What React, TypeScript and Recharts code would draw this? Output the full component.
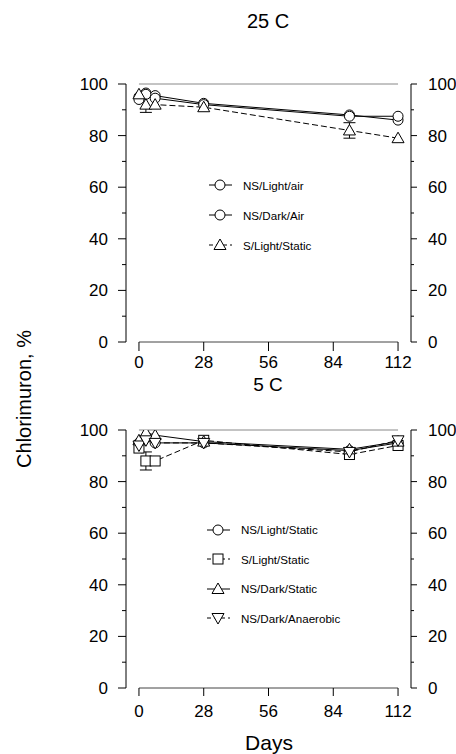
import React from "react";
import {
  ComposedChart,
  ErrorBar,
  Legend,
  Line,
  ReferenceLine,
  XAxis,
  YAxis,
} from "recharts";

// sampling days and axis ticks
const days = [0, 3, 7, 28, 91, 112];
const dayTicks = [0, 28, 56, 84, 112];
const pctTicks = [0, 10, 20, 30, 40, 50, 60, 70, 80, 90, 100];

// 25 C
const warmNsLightAir = [95, 96.5, 95.5, 92.5, 88, 86];
const warmNsDarkAir = [94, 96, 94.5, 92, 87.5, 87.5];
const warmSLightStatic = [96, 92, 92, 91, 82, 79];
const warmSLightStaticErr = [0, 3, 0, 0, 3, 0];

// 5 C
const coldNsLightStatic = [95, 97, 95, 95, 92, 95];
const coldSLightStatic = [93, 88, 88, 96, 90.5, 94];
const coldSLightStaticErr = [0, 3.5, 0, 0, 0, 0];
const coldNsDarkStatic = [96, 99, 98, 95.5, 92.5, 95.5];
const coldNsDarkAnaerobic = [94, 96, 95, 95, 91.5, 96];

type Kind = "circle" | "square" | "up" | "down";
type Series = {
  key: string;
  name: string;
  values: number[];
  err?: number[];
  kind: Kind;
  dash?: string;
};

const warmSeries: Series[] = [
  { key: "a", name: "NS/Light/air", values: warmNsLightAir, kind: "circle" },
  { key: "b", name: "NS/Dark/Air", values: warmNsDarkAir, kind: "circle" },
  { key: "c", name: "S/Light/Static", values: warmSLightStatic, err: warmSLightStaticErr, kind: "up", dash: "6 3" },
];

const coldSeries: Series[] = [
  { key: "a", name: "NS/Light/Static", values: coldNsLightStatic, kind: "circle" },
  { key: "b", name: "S/Light/Static", values: coldSLightStatic, err: coldSLightStaticErr, kind: "square", dash: "6 3" },
  { key: "c", name: "NS/Dark/Static", values: coldNsDarkStatic, kind: "up" },
  { key: "d", name: "NS/Dark/Anaerobic", values: coldNsDarkAnaerobic, kind: "down", dash: "6 3" },
];

const FONT = "'Liberation Sans', Arial, sans-serif";

function Marker({ kind, cx, cy }: { kind: Kind; cx: number; cy: number }) {
  const st = { fill: "#fff", stroke: "#000", strokeWidth: 1 };
  if (kind === "circle") return <circle cx={cx} cy={cy} r={5} {...st} />;
  if (kind === "square") return <rect x={cx - 5} y={cy - 5} width={10} height={10} {...st} />;
  if (kind === "up")
    return <polygon points={`${cx},${cy - 6} ${cx - 6},${cy + 4.5} ${cx + 6},${cy + 4.5}`} {...st} />;
  return <polygon points={`${cx},${cy + 6} ${cx - 6},${cy - 4.5} ${cx + 6},${cy - 4.5}`} {...st} />;
}

function renderYTick(p: any, side: "left" | "right") {
  const v = p.payload.value;
  const major = v % 20 === 0;
  const x = p.x;
  const y = p.y;
  if (side === "left") {
    const len = major ? 8 : 4;
    return (
      <g>
        <line x1={x - len} x2={x} y1={y} y2={y} stroke="#000" />
        {major && (
          <text x={x - 18} y={y} dy={6} textAnchor="end" fontSize={17} fill="#000" fontFamily={FONT}>
            {v}
          </text>
        )}
      </g>
    );
  }
  const len = major ? 6 : 3;
  return (
    <g>
      <line x1={x} x2={x + len} y1={y} y2={y} stroke="#000" />
      {major && (
        <text x={x + 17} y={y} dy={6} textAnchor="start" fontSize={17} fill="#000" fontFamily={FONT}>
          {v}
        </text>
      )}
    </g>
  );
}

function LegendBlock({ series, rowH }: { series: Series[]; rowH: number }) {
  return (
    <div style={{ fontFamily: FONT, fontSize: 11.6, color: "#000" }}>
      {series.map((s) => (
        <div key={s.key} style={{ height: rowH, display: "flex", alignItems: "center" }}>
          <svg width={28} height={14} style={{ marginRight: 8 }}>
            <line x1={2} x2={25} y1={7} y2={7} stroke="#000" strokeDasharray={s.dash ? "4 3" : undefined} />
            <Marker kind={s.kind} cx={13} cy={7} />
          </svg>
          <span style={{ whiteSpace: "nowrap" }}>{s.name}</span>
        </div>
      ))}
    </div>
  );
}

function Panel({
  series,
  top,
  marginTop,
  height,
  legendLeft,
  legendTop,
  rowH,
  tickSize,
  tickMargin,
}: {
  series: Series[];
  top: number;
  marginTop: number;
  height: number;
  legendLeft: number;
  legendTop: number;
  rowH: number;
  tickSize: number;
  tickMargin: number;
}) {
  const data = days.map((d, i) => {
    const row: Record<string, number> = { day: d };
    series.forEach((s) => {
      row[s.key] = s.values[i];
      if (s.err) row[s.key + "Err"] = s.err[i];
    });
    return row;
  });

  const last = series.length - 1;

  return (
    <div style={{ position: "absolute", left: 0, top }}>
      <ComposedChart width={456} height={height} data={data} margin={{ top: marginTop, right: 0, bottom: 0, left: 0 }}>
        <XAxis
          dataKey="day"
          type="number"
          domain={[-5.6, 117.6]}
          ticks={dayTicks}
          interval={0}
          axisLine={false}
          tickLine={{ stroke: "#000" }}
          tickSize={tickSize}
          tickMargin={tickMargin}
          height={38}
          tick={{ fill: "#000", fontSize: 17, fontFamily: FONT }}
        />
        <YAxis
          yAxisId="l"
          domain={[0, 100]}
          allowDataOverflow
          ticks={pctTicks}
          interval={0}
          width={126}
          tickSize={0}
          tickMargin={0}
          tickLine={false}
          axisLine={{ stroke: "#000" }}
          tick={(p: any) => renderYTick(p, "left")}
        />
        <YAxis
          yAxisId="r"
          orientation="right"
          domain={[0, 100]}
          allowDataOverflow
          ticks={pctTicks}
          interval={0}
          width={45}
          tickSize={0}
          tickMargin={0}
          tickLine={false}
          axisLine={{ stroke: "#000" }}
          tick={(p: any) => renderYTick(p, "right")}
        />
        <ReferenceLine
          yAxisId="l"
          segment={[{ x: 0, y: 0 }, { x: 112, y: 0 }]}
          stroke="#444"
          ifOverflow="visible"
        />
        <ReferenceLine
          yAxisId="r"
          segment={[{ x: 0, y: 100 }, { x: 112, y: 100 }]}
          stroke="#888"
          ifOverflow="visible"
        />
        {series.map((s, i) => (
          <Line
            key={s.key}
            yAxisId={i === last ? "r" : "l"}
            type="linear"
            dataKey={s.key}
            name={s.name}
            stroke="#000"
            strokeWidth={1}
            strokeDasharray={s.dash}
            activeDot={false}
            isAnimationActive={false}
            dot={(p: any) => <Marker key={`${s.key}-${p.index}`} kind={s.kind} cx={p.cx} cy={p.cy} />}
          >
            {s.err && <ErrorBar dataKey={s.key + "Err"} width={6} stroke="#000" strokeWidth={1} direction="y" />}
          </Line>
        ))}
        <Legend
          layout="horizontal"
          verticalAlign="middle"
          align="center"
          wrapperStyle={{ left: legendLeft, top: legendTop, width: "auto" }}
          content={() => <LegendBlock series={series} rowH={rowH} />}
        />
      </ComposedChart>
    </div>
  );
}

export default function App() {
  return (
    <div style={{ position: "absolute", left: 0, top: 0, width: 456, height: 754, background: "#fff", fontFamily: FONT }}>
      <Panel
        series={warmSeries}
        top={0}
        marginTop={84}
        height={380}
        legendLeft={207}
        legendTop={170}
        rowH={30}
        tickSize={9}
        tickMargin={5}
      />
      <Panel
        series={coldSeries}
        top={376}
        marginTop={54}
        height={350}
        legendLeft={205}
        legendTop={139}
        rowH={29.5}
        tickSize={8}
        tickMargin={9}
      />
      <svg width={456} height={754} style={{ position: "absolute", left: 0, top: 0, pointerEvents: "none" }}>
        <text x={268} y={28} textAnchor="middle" fontSize={20} fontFamily={FONT} fill="#000">
          25 C
        </text>
        <text x={268} y={391} textAnchor="middle" fontSize={19} fontFamily={FONT} fill="#000">
          5 C
        </text>
        <text x={269} y={750} textAnchor="middle" fontSize={21} fontFamily={FONT} fill="#000">
          Days
        </text>
        <text transform="translate(31,399) rotate(-90)" textAnchor="middle" fontSize={20} fontFamily={FONT} fill="#000">
          Chlorimuron, %
        </text>
      </svg>
    </div>
  );
}
